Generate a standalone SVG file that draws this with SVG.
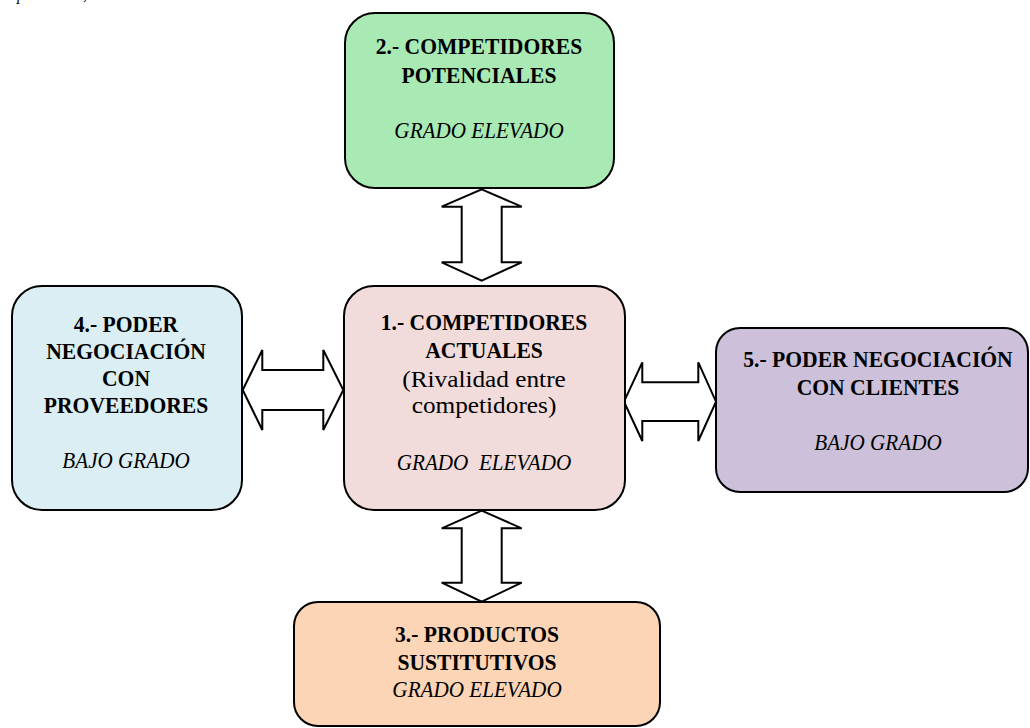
<svg xmlns="http://www.w3.org/2000/svg" width="1030" height="728" viewBox="0 0 1030 728">
<style>
.box{stroke:#000;stroke-width:2}
.b{font-family:"Liberation Serif","Times New Roman",serif;font-weight:bold;font-size:24px;text-anchor:middle;fill:#000}
.r{font-family:"Liberation Serif","Times New Roman",serif;font-size:23px;text-anchor:middle;fill:#000}
.i{font-family:"Liberation Serif","Times New Roman",serif;font-style:italic;font-size:23px;text-anchor:middle;fill:#000}
.arr{fill:#fff;stroke:#000;stroke-width:2;stroke-linejoin:miter}
.top{font-family:"Liberation Serif","Times New Roman",serif;font-style:italic;font-size:16px;fill:#000}
</style>
<rect width="1030" height="728" fill="#fff"/>
<text class="top" x="17" y="-0.5">p</text>
<text class="top" x="83" y="-0.5">,</text>
<g id="connectors">
<path class="arr" d="M481.7,189.3 L521.7,206.7 L501.7,206.7 L501.7,262.3 L521.7,262.3 L481.7,280.7 L441.7,262.3 L461.7,262.3 L461.7,206.7 L441.7,206.7 Z"/>
<path class="arr" d="M481.7,510.7 L521.7,528.3 L501.7,528.3 L501.7,582.7 L521.7,582.7 L481.7,601.7 L441.7,582.7 L461.7,582.7 L461.7,528.3 L441.7,528.3 Z"/>
<path class="arr" d="M242.7,390 L262.3,350 L262.3,370 L323.3,370 L323.3,350 L343.3,390 L323.3,430 L323.3,410 L262.3,410 L262.3,430 Z"/>
<path class="arr" d="M624,401.7 L642.3,362.3 L642.3,382.3 L698.3,382.3 L698.3,362.3 L716,401.7 L698.3,441 L698.3,421 L642.3,421 L642.3,441 Z"/>
</g>
<g id="node2">
<rect class="box" x="345" y="13" width="269" height="175" rx="30" fill="#a8e9b4"/>
<text class="b" x="0" y="54" transform="translate(479,0) scale(0.9,1)">2.- COMPETIDORES</text>
<text class="b" x="0" y="83" transform="translate(479,0) scale(0.9,1)">POTENCIALES</text>
<text class="i" x="0" y="138" transform="translate(479,0) scale(0.92,1)">GRADO ELEVADO</text>
</g>
<g id="node1">
<rect class="box" x="344" y="286" width="281" height="224" rx="30" fill="#f2dcdb"/>
<text class="b" x="0" y="330" transform="translate(484,0) scale(0.9,1)">1.- COMPETIDORES</text>
<text class="b" x="0" y="358" transform="translate(484,0) scale(0.9,1)">ACTUALES</text>
<text class="r" x="0" y="387" transform="translate(484,0) scale(1.1,1)">(Rivalidad entre</text>
<text class="r" x="0" y="413" transform="translate(484,0) scale(1.1,1)">competidores)</text>
<text class="i" x="0" y="470" transform="translate(484,0) scale(0.92,1)" xml:space="preserve">GRADO  ELEVADO</text>
</g>
<g id="node4">
<rect class="box" x="12" y="286" width="230" height="224" rx="30" fill="#dbeef3"/>
<text class="b" x="0" y="332" transform="translate(126,0) scale(0.9,1)">4.- PODER</text>
<text class="b" x="0" y="359" transform="translate(126,0) scale(0.9,1)">NEGOCIACIÓN</text>
<text class="b" x="0" y="386" transform="translate(126,0) scale(0.9,1)">CON</text>
<text class="b" x="0" y="413" transform="translate(126,0) scale(0.9,1)">PROVEEDORES</text>
<text class="i" x="0" y="468" transform="translate(126,0) scale(0.92,1)">BAJO GRADO</text>
</g>
<g id="node5">
<rect class="box" x="716" y="328" width="312" height="164" rx="24" fill="#ccc0da"/>
<text class="b" x="0" y="367" transform="translate(878,0) scale(0.9,1)">5.- PODER NEGOCIACIÓN</text>
<text class="b" x="0" y="395" transform="translate(878,0) scale(0.9,1)">CON CLIENTES</text>
<text class="i" x="0" y="450" transform="translate(878,0) scale(0.92,1)">BAJO GRADO</text>
</g>
<g id="node3">
<rect class="box" x="294" y="602" width="366" height="124" rx="24" fill="#fbd5b5"/>
<text class="b" x="0" y="642" transform="translate(477,0) scale(0.9,1)">3.- PRODUCTOS</text>
<text class="b" x="0" y="670" transform="translate(477,0) scale(0.9,1)">SUSTITUTIVOS</text>
<text class="i" x="0" y="697" transform="translate(477,0) scale(0.92,1)">GRADO ELEVADO</text>
</g>
</svg>
